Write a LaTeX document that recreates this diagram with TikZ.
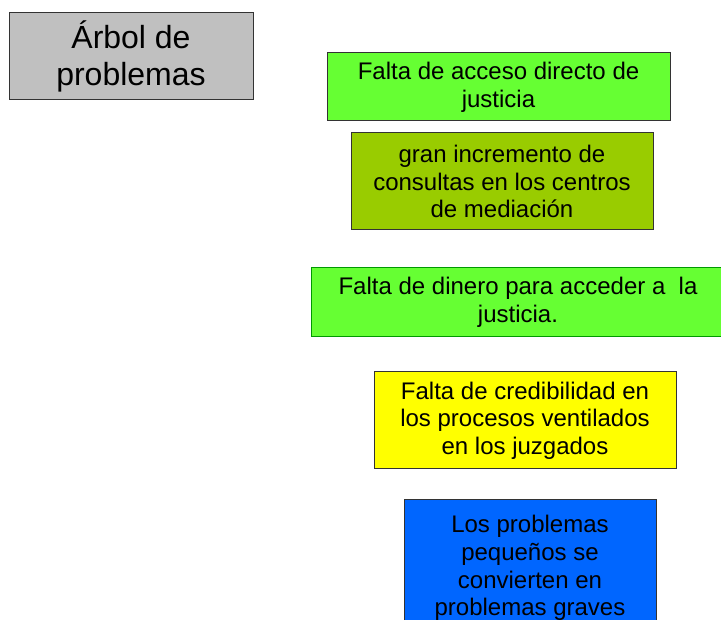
\documentclass[tikz,border=0pt]{standalone}
\usepackage{fontspec}
\setmainfont{Liberation Sans}

\definecolor{gris}{HTML}{C0C0C0}
\definecolor{verde}{HTML}{66FF33}
\definecolor{oliva}{HTML}{99CC00}
\definecolor{amarillo}{HTML}{FFFF00}
\definecolor{azul}{HTML}{0066FF}
\definecolor{borde}{HTML}{333333}

\tikzset{
  caja/.style={draw=borde, line width=1pt, rectangle, align=center, inner sep=0pt,
    font=\fontsize{24}{27.6}\selectfont},
}

\begin{document}
\begin{tikzpicture}[x=1pt,y=-1pt]
        \useasboundingbox (0,0) rectangle (721,620);
        \node[caja, fill=gris, minimum width=244pt, minimum height=87pt,
              font=\fontsize{32}{37}\selectfont] (titulo) at (131,56.5) {Árbol de\\problemas};

        \node[caja, fill=verde, minimum width=343pt, minimum height=68pt] (acceso) at (498.5,87)
              {Falta de acceso directo de\\justicia};
        \node[caja, fill=oliva, minimum width=302pt, minimum height=97pt] (consultas) at (502,181.5)
              {gran incremento de\\consultas en los centros\\de mediación};
        \node[caja, fill=verde, draw=green!60!black, minimum width=414pt, minimum height=69pt] (dinero) at (518,302.5)
              {Falta de dinero para acceder a\ \ la\\justicia.};
        \node[caja, fill=amarillo, minimum width=302pt, minimum height=97pt] (credibilidad) at (525,420.5)
              {Falta de credibilidad en\\los procesos ventilados\\en los juzgados};
        \node[caja, fill=azul, minimum width=252pt, minimum height=136pt] (pequenos) at (530,568)
              {Los problemas\\pequeños se\\convierten en\\problemas graves};
\end{tikzpicture}
\end{document}
